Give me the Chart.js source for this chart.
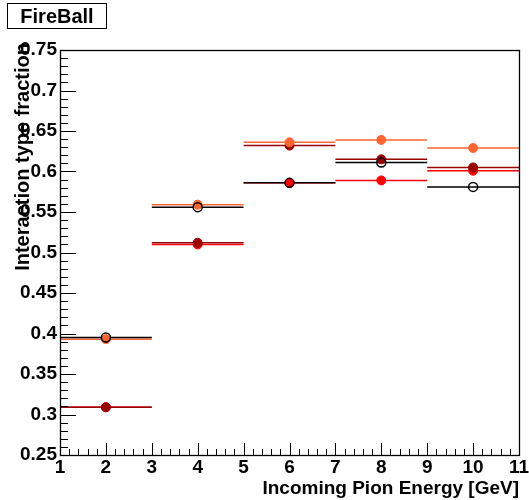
<!DOCTYPE html>
<html>
<head>
<meta charset="utf-8">
<script src="https://cdn.jsdelivr.net/npm/chart.js@4/dist/chart.umd.min.js"></script>
<style>
  html, body { margin: 0; padding: 0; background: #fff; }
  #wrap { width: 529px; height: 500px; }
</style>
</head>
<body>
<div id="wrap"><canvas id="c" width="529" height="500"></canvas></div>
<script>
// Energy bins (GeV): centres and edges
const binCenters = [2, 4, 6, 8, 10];
const binEdges = [1, 3, 5, 7, 9, 11];

// Interaction type fractions per energy bin
const fracBlack   = [0.395, 0.556, 0.586, 0.611, 0.581];
const fracOrange  = [0.393, 0.559, 0.636, 0.639, 0.629];
const fracDarkRed = [0.309, 0.512, 0.632, 0.615, 0.605];
const fracRed     = [0.309, 0.510, 0.586, 0.589, 0.601];

// Axis tick labels
const xTicks = [1, 2, 3, 4, 5, 6, 7, 8, 9, 10, 11];
const yTicks = [0.25, 0.3, 0.35, 0.4, 0.45, 0.5, 0.55, 0.6, 0.65, 0.7, 0.75];

const FONT = '"Liberation Sans", Arial, Helvetica, sans-serif';

// Horizontal bin-width segments, one broken line per series
function binSegments(values) {
  const pts = [];
  values.forEach((v, i) => {
    pts.push({ x: binEdges[i], y: v });
    pts.push({ x: binEdges[i + 1], y: v });
    pts.push({ x: binEdges[i + 1], y: null });
  });
  return pts;
}
function markers(values) {
  return values.map((v, i) => ({ x: binCenters[i], y: v }));
}

const series = [
  { values: fracBlack,   color: '#000000', hollow: true,  order: 1 },
  { values: fracOrange,  color: '#ff6633', hollow: false, order: 2 },
  { values: fracDarkRed, color: '#990000', hollow: false, order: 3 },
  { values: fracRed,     color: '#ff0000', hollow: false, order: 4 }
];

const datasets = [];
series.forEach(s => {
  datasets.push({
    type: 'scatter',
    data: markers(s.values),
    pointRadius: 4.5,
    pointHoverRadius: 4.5,
    pointBackgroundColor: s.hollow ? 'rgba(0,0,0,0)' : s.color,
    pointBorderColor: s.color,
    pointBorderWidth: s.hollow ? 1.5 : 1,
    showLine: false,
    order: s.order
  });
  datasets.push({
    type: 'line',
    data: binSegments(s.values),
    borderColor: s.color,
    borderWidth: 1.5,
    pointRadius: 0,
    spanGaps: false,
    fill: false,
    order: s.order + 10
  });
});

// Frame with inward major/minor ticks, ROOT style
const framePlugin = {
  id: 'frame',
  afterDatasetsDraw(chart) {
    const { ctx, chartArea: a, scales: { x, y } } = chart;
    ctx.save();
    ctx.strokeStyle = '#000';
    ctx.lineWidth = 1;
    ctx.beginPath();
    // y axis ticks: major every 0.05, minor every 0.01
    for (let k = 0; k <= 50; k++) {
      const v = 0.25 + k * 0.01;
      const py = Math.round(y.getPixelForValue(v)) + 0.5;
      const len = (k % 5 === 0) ? 16 : 8;
      ctx.moveTo(a.left, py);
      ctx.lineTo(a.left + len, py);
    }
    // x axis ticks: major every 1, minor every 0.2
    for (let k = 0; k <= 50; k++) {
      const v = 1 + k * 0.2;
      const px = Math.round(x.getPixelForValue(v)) + 0.5;
      const len = (k % 5 === 0) ? 12 : 6;
      ctx.moveTo(px, a.bottom);
      ctx.lineTo(px, a.bottom - len);
    }
    ctx.stroke();
    ctx.lineWidth = 1.3;
    ctx.strokeRect(Math.round(a.left) + 0.5, Math.round(a.top) + 0.5,
                   Math.round(a.right - a.left), Math.round(a.bottom - a.top));
    ctx.restore();
  },
  afterDraw(chart) {
    const { ctx } = chart;
    ctx.save();
    // title box
    ctx.fillStyle = '#fff';
    ctx.fillRect(7.5, 3.5, 99, 25);
    ctx.strokeStyle = '#000';
    ctx.lineWidth = 1;
    ctx.strokeRect(7.5, 3.5, 99, 25);
    ctx.fillStyle = '#000';
    ctx.font = 'bold 20px ' + FONT;
    ctx.textAlign = 'center';
    ctx.textBaseline = 'alphabetic';
    ctx.fillText('FireBall', 57, 23);
    // axis titles
    ctx.textAlign = 'right';
    ctx.font = 'bold 19px ' + FONT;
    ctx.fillText('Incoming Pion Energy [GeV]', 519, 494);
    ctx.font = 'bold 20px ' + FONT;
    ctx.translate(29, 43);
    ctx.rotate(-Math.PI / 2);
    ctx.fillText('Interaction type fraction', 0, 0);
    ctx.restore();
  }
};

new Chart(document.getElementById('c'), {
  data: { datasets },
  options: {
    responsive: false,
    animation: false,
    devicePixelRatio: 1,
    layout: { padding: { left: 0, top: 50, right: 10, bottom: 0 } },
    plugins: { legend: { display: false }, tooltip: { enabled: false }, title: { display: false } },
    scales: {
      x: {
        type: 'linear',
        min: 1, max: 11,
        grid: { display: false, drawTicks: false, tickLength: 0 },
        border: { display: false },
        afterBuildTicks: s => { s.ticks = xTicks.map(v => ({ value: v })); },
        afterFit: s => { s.height = 45; s.paddingLeft = 0; s.paddingRight = 0; },
        ticks: {
          padding: 1,
          maxRotation: 0,
          autoSkip: false,
          color: '#000',
          font: { family: FONT, size: 19, weight: 'bold' },
          callback: v => String(v)
        }
      },
      y: {
        type: 'linear',
        min: 0.25, max: 0.75,
        grid: { display: false, drawTicks: false, tickLength: 0 },
        border: { display: false },
        afterBuildTicks: s => { s.ticks = yTicks.map(v => ({ value: v })); },
        afterFit: s => { s.width = 60; s.paddingTop = 0; s.paddingBottom = 0; },
        ticks: {
          padding: 3,
          autoSkip: false,
          color: '#000',
          font: { family: FONT, size: 19, weight: 'bold' },
          callback: v => String(+v.toFixed(2))
        }
      }
    }
  },
  plugins: [framePlugin]
});
</script>
</body>
</html>
